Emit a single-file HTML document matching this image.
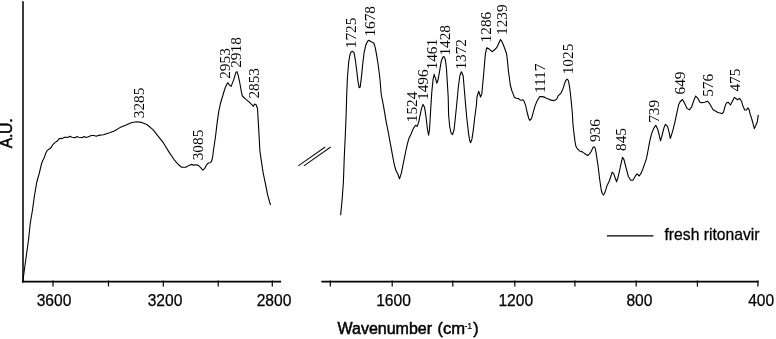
<!DOCTYPE html>
<html><head><meta charset="utf-8"><style>
html,body{margin:0;padding:0;background:#fff;}
body{width:776px;height:339px;overflow:hidden;}
svg{display:block;will-change:transform;}
.tl{font-family:"Liberation Sans",sans-serif;font-size:15.6px;text-anchor:middle;fill:#000;stroke:#000;stroke-width:0.25px;}
.pl{font-family:"Liberation Serif",serif;font-size:15.3px;fill:#000;}
.lg{font-family:"Liberation Sans",sans-serif;font-size:15.7px;fill:#000;stroke:#000;stroke-width:0.3px;}
.at{font-family:"Liberation Sans",sans-serif;font-size:16px;fill:#000;stroke:#000;stroke-width:0.5px;}
</style></head><body>
<svg width="776" height="339" viewBox="0 0 776 339">
<line x1="23" y1="1.2" x2="23" y2="282.4" stroke="#333" stroke-width="1.9"/>
<line x1="22" y1="281.6" x2="281.1" y2="281.6" stroke="#000" stroke-width="1.6"/>
<line x1="321.3" y1="281.6" x2="758.6" y2="281.6" stroke="#000" stroke-width="1.6"/>
<line x1="53" y1="280.5" x2="53" y2="286.4" stroke="#000" stroke-width="1.2"/>
<line x1="108.5" y1="280.5" x2="108.5" y2="286.4" stroke="#000" stroke-width="1.2"/>
<line x1="163.3" y1="280.5" x2="163.3" y2="286.4" stroke="#000" stroke-width="1.2"/>
<line x1="218.2" y1="280.5" x2="218.2" y2="286.4" stroke="#000" stroke-width="1.2"/>
<line x1="272.3" y1="280.5" x2="272.3" y2="286.4" stroke="#000" stroke-width="1.2"/>
<line x1="330.3" y1="280.5" x2="330.3" y2="286.4" stroke="#000" stroke-width="1.2"/>
<line x1="392.2" y1="280.5" x2="392.2" y2="286.4" stroke="#000" stroke-width="1.2"/>
<line x1="452.8" y1="280.5" x2="452.8" y2="286.4" stroke="#000" stroke-width="1.2"/>
<line x1="514.8" y1="280.5" x2="514.8" y2="286.4" stroke="#000" stroke-width="1.2"/>
<line x1="574.9" y1="280.5" x2="574.9" y2="286.4" stroke="#000" stroke-width="1.2"/>
<line x1="636.2" y1="280.5" x2="636.2" y2="286.4" stroke="#000" stroke-width="1.2"/>
<line x1="697.4" y1="280.5" x2="697.4" y2="286.4" stroke="#000" stroke-width="1.2"/>
<line x1="757.9" y1="280.5" x2="757.9" y2="286.4" stroke="#000" stroke-width="1.2"/>
<text x="54.0" y="305.9" class="tl">3600</text>
<text x="165.0" y="305.9" class="tl">3200</text>
<text x="274.0" y="305.9" class="tl">2800</text>
<text x="393.5" y="305.9" class="tl">1600</text>
<text x="515.8" y="305.9" class="tl">1200</text>
<text x="639.4" y="305.9" class="tl">800</text>
<text x="761.2" y="305.9" class="tl">400</text>
<line x1="298.3" y1="165.9" x2="325.2" y2="147" stroke="#111" stroke-width="1.1"/>
<line x1="303.9" y1="165.9" x2="330.7" y2="147" stroke="#111" stroke-width="1.1"/>
<polyline points="22.8,281.5 26.0,258.0 28.5,240.0 30.3,223.0 32.5,210.0 34.4,196.0 36.8,182.0 39.2,173.6 41.6,163.5 42.8,160.5 44.2,157.7 45.8,153.1 47.3,150.4 50.0,148.5 51.5,147.0 53.0,144.3 55.3,142.4 57.6,140.8 59.2,138.6 62.6,138.4 64.2,137.4 68.5,137.3 70.1,136.3 71.7,137.3 75.4,137.6 77.0,136.5 78.6,137.3 82.3,137.6 83.9,136.5 86.1,137.5 88.2,136.8 91.4,135.5 94.0,135.5 96.2,136.3 98.3,135.4 103.4,134.8 109.6,132.7 114.8,130.7 119.9,127.6 126.1,125.1 131.3,122.8 136.4,121.8 141.6,122.4 146.8,124.5 153.0,129.6 157.1,134.9 163.0,142.3 168.9,151.9 174.9,160.7 177.5,163.6 180.0,166.0 181.8,167.2 185.9,167.2 188.9,165.4 191.3,164.4 193.6,165.1 196.0,164.8 198.3,165.4 200.7,167.7 202.8,170.1 204.8,168.3 206.6,164.8 208.4,163.0 210.1,162.7 211.5,161.5 212.5,157.7 213.5,150.0 214.4,144.0 215.6,135.8 217.1,123.1 218.7,111.9 220.3,104.0 221.6,99.5 222.7,96.0 224.0,91.5 225.6,86.7 227.6,82.7 229.5,85.1 231.1,86.4 233.5,80.4 235.9,72.4 237.0,71.6 238.3,75.6 239.9,83.5 241.5,92.3 242.4,96.0 245.3,98.9 249.0,101.9 252.0,104.8 253.4,106.3 254.6,104.1 256.1,104.8 257.5,108.5 258.6,127.1 259.9,151.0 261.5,162.1 263.2,173.1 265.5,184.2 267.7,195.2 270.5,205.0" fill="none" stroke="#000" stroke-width="1.1" stroke-linejoin="round"/>
<polyline points="340.6,215.2 342.1,200.0 343.4,182.0 344.3,156.5 345.3,135.0 346.1,116.3 346.6,97.7 347.4,78.0 348.7,62.0 350.0,54.4 351.2,51.8 352.6,51.3 354.0,52.7 355.3,59.7 356.7,70.3 357.9,80.9 359.1,87.7 360.2,87.1 361.4,77.4 362.8,63.3 364.1,52.7 365.9,44.7 367.6,41.2 368.9,40.3 371.2,41.7 373.8,43.0 375.2,47.4 376.5,54.4 378.2,65.0 380.0,79.2 381.2,94.0 383.8,107.7 386.0,120.9 388.2,131.8 390.4,143.8 392.6,155.9 394.3,164.6 395.8,170.0 398.0,174.4 399.5,178.8 401.3,173.3 403.5,162.4 405.7,151.5 407.4,143.8 408.9,138.4 411.1,134.0 413.3,128.6 415.5,125.3 417.2,126.2 418.7,122.1 420.2,114.7 421.6,108.1 423.1,104.4 424.6,107.4 426.1,117.7 427.5,129.5 428.6,135.1 429.5,129.5 430.2,117.7 430.9,105.9 431.8,92.1 433.1,79.1 434.2,74.3 435.5,78.3 436.8,83.2 438.0,80.0 439.6,71.1 441.2,61.3 442.8,57.3 443.9,56.5 445.2,58.9 446.4,67.8 447.3,82.4 448.2,97.0 448.6,114.7 449.7,126.5 451.1,133.2 452.6,134.7 454.1,129.5 455.0,121.3 456.8,103.5 458.4,86.5 460.0,75.0 461.4,71.8 463.2,76.0 464.6,93.0 465.7,106.0 467.1,121.0 468.5,133.0 469.7,140.5 470.6,142.8 472.0,138.9 473.3,130.1 474.7,117.7 476.4,105.0 477.0,97.0 478.7,91.2 480.5,97.0 481.8,94.0 483.8,72.5 485.4,53.6 486.8,47.7 489.2,48.9 492.0,51.7 494.4,50.0 496.7,47.7 498.9,43.0 500.5,39.6 501.8,41.3 503.6,45.5 505.3,50.0 506.6,54.0 507.6,62.0 508.4,71.0 509.4,78.0 510.3,85.0 511.8,90.5 513.3,94.4 514.4,97.2 516.2,98.2 518.6,98.6 519.7,99.7 520.9,100.3 522.7,99.7 523.9,100.9 525.6,105.1 526.8,111.0 528.6,118.0 529.8,120.4 531.5,118.6 533.3,112.1 535.1,105.6 537.4,100.3 539.8,96.6 542.2,96.6 545.0,97.4 545.7,97.9 549.2,99.2 550.0,99.9 554.0,100.6 555.5,100.1 557.0,98.6 558.0,96.1 559.5,94.6 561.0,93.1 562.0,91.1 563.0,88.6 564.1,85.1 565.1,82.0 566.1,80.0 567.3,79.2 568.3,80.5 569.3,85.1 570.1,91.1 570.9,98.1 571.6,105.1 572.4,114.0 573.0,125.0 574.1,134.4 575.0,141.5 575.9,146.3 577.7,149.2 580.0,151.2 582.4,151.9 584.2,153.1 585.9,154.5 587.7,155.5 589.5,153.9 591.3,151.2 593.0,147.4 594.2,146.8 595.1,148.0 596.0,152.2 597.2,160.4 598.1,166.0 598.8,172.0 599.7,179.5 601.2,189.8 602.2,193.5 603.4,195.0 604.8,192.8 607.1,185.4 609.3,181.0 610.8,176.5 612.2,172.1 613.7,173.6 615.2,178.0 616.6,181.7 617.8,178.0 618.9,173.6 620.0,168.5 621.1,163.3 622.5,157.4 624.0,159.6 625.1,164.0 626.2,168.4 628.4,176.5 630.7,180.2 632.9,180.2 634.5,177.5 636.0,175.1 637.2,173.9 639.2,176.0 641.3,172.9 642.9,168.8 644.4,164.6 646.5,158.4 648.1,150.1 649.6,141.9 651.6,133.6 653.7,128.4 655.8,125.3 657.8,129.5 659.2,135.0 660.5,140.8 661.8,136.5 663.0,131.5 664.2,127.2 665.5,124.3 667.5,126.4 669.2,132.6 670.3,138.5 672.6,131.3 674.9,122.2 677.2,111.4 678.7,104.5 680.3,101.5 682.5,99.5 684.8,103.8 687.1,108.4 689.4,109.9 691.7,106.8 694.0,100.0 695.6,96.1 697.9,98.4 699.9,102.2 701.8,102.6 704.6,102.2 707.4,101.2 709.3,103.1 711.2,106.4 713.1,109.7 715.5,111.1 717.8,112.5 720.2,113.0 722.1,113.7 723.5,112.1 724.9,106.9 726.3,103.1 728.2,102.2 730.5,105.0 732.4,101.2 734.3,97.4 736.2,98.8 737.6,99.8 739.5,98.4 741.6,101.3 742.8,105.6 744.7,110.0 746.5,110.0 747.8,107.9 749.0,109.3 750.3,114.9 751.5,118.0 752.7,122.4 754.3,128.6 755.8,125.5 757.3,121.7 758.3,114.9" fill="none" stroke="#000" stroke-width="1.1" stroke-linejoin="round"/>
<text class="pl" transform="translate(143.7,118.2) rotate(-90)">3285</text>
<text class="pl" transform="translate(203.0,160.3) rotate(-90)">3085</text>
<text class="pl" transform="translate(230.1,78.8) rotate(-90)">2953</text>
<text class="pl" transform="translate(241.3,67.8) rotate(-90)">2918</text>
<text class="pl" transform="translate(258.6,98.6) rotate(-90)">2853</text>
<text class="pl" transform="translate(356.0,48.2) rotate(-90)">1725</text>
<text class="pl" transform="translate(374.8,36.6) rotate(-90)">1678</text>
<text class="pl" transform="translate(417.1,122.2) rotate(-90)">1524</text>
<text class="pl" transform="translate(427.8,100.0) rotate(-90)">1496</text>
<text class="pl" transform="translate(437.4,69.5) rotate(-90)">1461</text>
<text class="pl" transform="translate(449.7,55.6) rotate(-90)">1428</text>
<text class="pl" transform="translate(465.8,69.6) rotate(-90)">1372</text>
<text class="pl" transform="translate(491.0,42.4) rotate(-90)">1286</text>
<text class="pl" transform="translate(507.2,35.0) rotate(-90)">1239</text>
<text class="pl" transform="translate(545.0,93.1) rotate(-90)">1117</text>
<text class="pl" transform="translate(573.4,74.3) rotate(-90)">1025</text>
<text class="pl" transform="translate(599.7,142.1) rotate(-90)">936</text>
<text class="pl" transform="translate(626.2,151.0) rotate(-90)">845</text>
<text class="pl" transform="translate(659.4,122.8) rotate(-90)">739</text>
<text class="pl" transform="translate(685.0,94.5) rotate(-90)">649</text>
<text class="pl" transform="translate(712.5,96.8) rotate(-90)">576</text>
<text class="pl" transform="translate(740.1,91.6) rotate(-90)">475</text>
<line x1="606.9" y1="235.8" x2="653.5" y2="235.8" stroke="#000" stroke-width="1.3"/>
<text x="664.5" y="240.0" class="lg">fresh ritonavir</text>
<text x="337.5" y="334.3" class="at">Wavenumber <tspan x="437.6">(</tspan><tspan x="443.0" font-size="16.6">cm</tspan><tspan x="464.4" dy="-5.5" font-size="8.8" style="stroke-width:0.2px">-1</tspan><tspan x="473.3" dy="5.5">)</tspan></text>
<text class="at" style="font-size:15.8px;letter-spacing:-0.3px" transform="translate(12.4,148.3) rotate(-90)">A.U.</text>
</svg>
</body></html>
